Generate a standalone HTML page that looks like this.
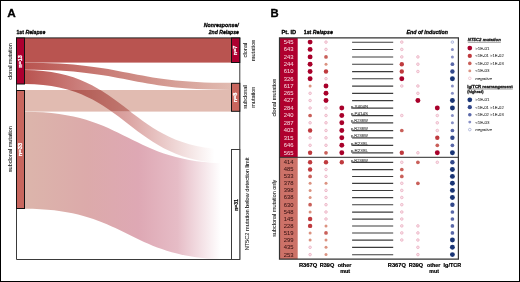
<!DOCTYPE html>
<html><head><meta charset="utf-8"><title>NT5C2 figure</title>
<style>
html,body{margin:0;padding:0;background:#fff;}
body{width:520px;height:282px;overflow:hidden;}
svg{display:block;font-family:"Liberation Sans", sans-serif;font-kerning:none;}
</style></head><body>
<svg width="520" height="282" viewBox="0 0 520 282"><defs><linearGradient id="gB" gradientUnits="userSpaceOnUse" x1="25" y1="0" x2="231" y2="0">
<stop offset="0" stop-color="#b95450"/><stop offset="1" stop-color="#e1bbb1"/></linearGradient><linearGradient id="gC" gradientUnits="userSpaceOnUse" x1="25" y1="0" x2="231" y2="0">
<stop offset="0" stop-color="#b95450"/><stop offset="0.5" stop-color="#dba4a2"/><stop offset="0.92" stop-color="#ffffff"/><stop offset="1" stop-color="#ffffff"/></linearGradient><linearGradient id="gE" gradientUnits="userSpaceOnUse" x1="25" y1="0" x2="231" y2="0">
<stop offset="0" stop-color="#dcb5ab"/><stop offset="0.3" stop-color="#dcaaaa"/><stop offset="0.55" stop-color="#dea8b4"/><stop offset="0.74" stop-color="#e6bcc6"/><stop offset="0.95" stop-color="#ffffff"/><stop offset="1" stop-color="#ffffff"/></linearGradient><clipPath id="cpD"><rect x="0" y="90" width="260" height="21.6"/></clipPath><clipPath id="cpND"><path d="M0,0 H260 V90 H0 Z M0,111.6 H260 V282 H0 Z"/></clipPath></defs>
<rect width="520" height="282" fill="#fff"/>
<path d="M25,111.8 C128.0,111.8 128.0,163.4 231,163.4 L231,259.5 C128.0,259.5 128.0,208.7 25,208.7 Z" fill="url(#gE)" />
<rect x="25" y="90" width="206" height="21.6" fill="#e1bbb1"/>
<rect x="25" y="38" width="206" height="24.6" fill="#b95450"/>
<path d="M25,62.65 C128.0,62.65 128.0,82.8 231,82.8 L231,89.9 C128.0,89.9 128.0,69.8 25,69.8 Z" fill="url(#gB)" />
<g clip-path="url(#cpND)"><path d="M25,69.9 C128.0,69.9 128.0,149.3 231,149.3 L231,163.5 C128.0,163.5 128.0,84 25,84 Z" fill="url(#gC)" /></g>
<g clip-path="url(#cpD)" style="mix-blend-mode:multiply"><path d="M25,69.9 C128.0,69.9 128.0,149.3 231,149.3 L231,163.5 C128.0,163.5 128.0,84 25,84 Z" fill="url(#gC)" /></g>
<path d="M16.5,38 V259.5 H239.8 V38" fill="none" stroke="#3a3a3a" stroke-width="1"/>
<path d="M16,37.9 H240.3" stroke="#222" stroke-width="1"/>
<rect x="16.5" y="38" width="8" height="46" fill="#ad0030" stroke="#111" stroke-width="1"/>
<rect x="16.5" y="90.5" width="8" height="118" fill="#c8665e" stroke="#111" stroke-width="1"/>
<rect x="231.5" y="38" width="8.3" height="24.5" fill="#ad0030" stroke="#111" stroke-width="1"/>
<rect x="231.5" y="83.3" width="8.3" height="28" fill="#c8665e" stroke="#111" stroke-width="1"/>
<rect x="231.5" y="149.5" width="8.3" height="110" fill="#fff" stroke="#3a3a3a" stroke-width="1"/>
<text transform="translate(7.31,16.60) scale(1.0329,1)" font-size="11.4" font-weight="bold" fill="#000" stroke="#000" stroke-width="0.30" stroke-linejoin="round">A</text>
<text transform="translate(16.47,33.80) scale(0.8687,1)" font-size="6.0" font-weight="bold" fill="#000" stroke="#000" stroke-width="0.30" stroke-linejoin="round">1st <tspan font-style="italic">Relapse</tspan></text>
<text transform="translate(203.81,27.00) scale(0.8756,1)" font-size="6.0" font-weight="bold" font-style="italic" fill="#000" stroke="#000" stroke-width="0.30" stroke-linejoin="round">Nonresponse/</text>
<text transform="translate(208.78,33.80) scale(0.8533,1)" font-size="6.0" font-weight="bold" font-style="italic" fill="#000" stroke="#000" stroke-width="0.30" stroke-linejoin="round">2nd Relapse</text>
<text transform="translate(12.20,79.83) rotate(-90) scale(1.0460,1)" font-size="5.2" fill="#1a1a1a" stroke="#1a1a1a" stroke-width="0.06" stroke-linejoin="round">clonal mutation</text>
<text transform="translate(12.20,172.15) rotate(-90) scale(1.0612,1)" font-size="5.2" fill="#1a1a1a" stroke="#1a1a1a" stroke-width="0.06" stroke-linejoin="round">subclonal mutation</text>
<text transform="translate(22.10,67.86) rotate(-90) scale(0.9977,1)" font-size="5.5" font-weight="bold" fill="#fff" stroke="#fff" stroke-width="0.25" stroke-linejoin="round">n=13</text>
<text transform="translate(22.10,156.18) rotate(-90) scale(1.0472,1)" font-size="5.5" font-weight="bold" fill="#fff" stroke="#fff" stroke-width="0.25" stroke-linejoin="round">n=33</text>
<text transform="translate(237.30,55.16) rotate(-90) scale(0.9684,1)" font-size="5.6" font-weight="bold" fill="#fff" stroke="#fff" stroke-width="0.25" stroke-linejoin="round">n=7</text>
<text transform="translate(237.30,102.37) rotate(-90) scale(0.9931,1)" font-size="5.6" font-weight="bold" fill="#fff" stroke="#fff" stroke-width="0.25" stroke-linejoin="round">n=8</text>
<text transform="translate(237.50,210.84) rotate(-90) scale(0.9282,1)" font-size="5.5" font-weight="bold" fill="#111" stroke="#111" stroke-width="0.20" stroke-linejoin="round">n=31</text>
<text transform="translate(247.30,57.44) rotate(-90) scale(1.0908,1)" font-size="5.2" fill="#1a1a1a" stroke="#1a1a1a" stroke-width="0.06" stroke-linejoin="round">clonal</text>
<text transform="translate(254.50,61.28) rotate(-90) scale(1.0955,1)" font-size="5.2" fill="#1a1a1a" stroke="#1a1a1a" stroke-width="0.06" stroke-linejoin="round">mutation</text>
<text transform="translate(247.30,108.65) rotate(-90) scale(1.0616,1)" font-size="5.2" fill="#1a1a1a" stroke="#1a1a1a" stroke-width="0.06" stroke-linejoin="round">subclonal</text>
<text transform="translate(254.50,107.77) rotate(-90) scale(1.0643,1)" font-size="5.2" fill="#1a1a1a" stroke="#1a1a1a" stroke-width="0.06" stroke-linejoin="round">mutation</text>
<text transform="translate(248.50,250.36) rotate(-90) scale(1.0810,1)" font-size="5.2" fill="#1a1a1a" stroke="#1a1a1a" stroke-width="0.06" stroke-linejoin="round">NT5C2 mutation below detection limit</text>
<rect x="279.5" y="38" width="18.2" height="119.3" fill="#b0002e"/>
<rect x="279.5" y="157.3" width="18.2" height="101.9" fill="#cd7268"/>
<text transform="translate(283.80,44.05) scale(1.0679,1)" font-size="5.5" fill="#f4d2da" stroke="#f4d2da" stroke-width="0.04" stroke-linejoin="round">545</text>
<text transform="translate(283.80,51.35) scale(1.0679,1)" font-size="5.5" fill="#f4d2da" stroke="#f4d2da" stroke-width="0.04" stroke-linejoin="round">643</text>
<text transform="translate(283.80,58.85) scale(1.0679,1)" font-size="5.5" fill="#f4d2da" stroke="#f4d2da" stroke-width="0.04" stroke-linejoin="round">243</text>
<text transform="translate(283.80,66.15) scale(1.0679,1)" font-size="5.5" fill="#f4d2da" stroke="#f4d2da" stroke-width="0.04" stroke-linejoin="round">244</text>
<text transform="translate(283.80,73.45) scale(1.0679,1)" font-size="5.5" fill="#f4d2da" stroke="#f4d2da" stroke-width="0.04" stroke-linejoin="round">610</text>
<text transform="translate(283.80,80.65) scale(1.0679,1)" font-size="5.5" fill="#f4d2da" stroke="#f4d2da" stroke-width="0.04" stroke-linejoin="round">326</text>
<text transform="translate(283.80,87.95) scale(1.0679,1)" font-size="5.5" fill="#f4d2da" stroke="#f4d2da" stroke-width="0.04" stroke-linejoin="round">617</text>
<text transform="translate(283.80,95.25) scale(1.0679,1)" font-size="5.5" fill="#f4d2da" stroke="#f4d2da" stroke-width="0.04" stroke-linejoin="round">265</text>
<text transform="translate(283.80,102.45) scale(1.0679,1)" font-size="5.5" fill="#f4d2da" stroke="#f4d2da" stroke-width="0.04" stroke-linejoin="round">427</text>
<text transform="translate(283.80,109.95) scale(1.0679,1)" font-size="5.5" fill="#f4d2da" stroke="#f4d2da" stroke-width="0.04" stroke-linejoin="round">284</text>
<text transform="translate(283.80,117.45) scale(1.0679,1)" font-size="5.5" fill="#f4d2da" stroke="#f4d2da" stroke-width="0.04" stroke-linejoin="round">240</text>
<text transform="translate(283.80,124.75) scale(1.0679,1)" font-size="5.5" fill="#f4d2da" stroke="#f4d2da" stroke-width="0.04" stroke-linejoin="round">287</text>
<text transform="translate(283.80,132.45) scale(1.0679,1)" font-size="5.5" fill="#f4d2da" stroke="#f4d2da" stroke-width="0.04" stroke-linejoin="round">403</text>
<text transform="translate(283.80,139.75) scale(1.0679,1)" font-size="5.5" fill="#f4d2da" stroke="#f4d2da" stroke-width="0.04" stroke-linejoin="round">315</text>
<text transform="translate(283.80,147.25) scale(1.0679,1)" font-size="5.5" fill="#f4d2da" stroke="#f4d2da" stroke-width="0.04" stroke-linejoin="round">646</text>
<text transform="translate(283.80,154.75) scale(1.0679,1)" font-size="5.5" fill="#f4d2da" stroke="#f4d2da" stroke-width="0.04" stroke-linejoin="round">565</text>
<text transform="translate(283.80,164.25) scale(1.0679,1)" font-size="5.5" fill="#3a1414" stroke="#3a1414" stroke-width="0.04" stroke-linejoin="round">414</text>
<text transform="translate(283.80,171.45) scale(1.0679,1)" font-size="5.5" fill="#3a1414" stroke="#3a1414" stroke-width="0.04" stroke-linejoin="round">485</text>
<text transform="translate(283.80,178.35) scale(1.0679,1)" font-size="5.5" fill="#3a1414" stroke="#3a1414" stroke-width="0.04" stroke-linejoin="round">533</text>
<text transform="translate(283.80,185.25) scale(1.0679,1)" font-size="5.5" fill="#3a1414" stroke="#3a1414" stroke-width="0.04" stroke-linejoin="round">378</text>
<text transform="translate(283.80,192.35) scale(1.0679,1)" font-size="5.5" fill="#3a1414" stroke="#3a1414" stroke-width="0.04" stroke-linejoin="round">398</text>
<text transform="translate(283.80,199.45) scale(1.0679,1)" font-size="5.5" fill="#3a1414" stroke="#3a1414" stroke-width="0.04" stroke-linejoin="round">638</text>
<text transform="translate(283.80,206.65) scale(1.0679,1)" font-size="5.5" fill="#3a1414" stroke="#3a1414" stroke-width="0.04" stroke-linejoin="round">630</text>
<text transform="translate(283.80,213.95) scale(1.0679,1)" font-size="5.5" fill="#3a1414" stroke="#3a1414" stroke-width="0.04" stroke-linejoin="round">548</text>
<text transform="translate(283.80,220.95) scale(1.0679,1)" font-size="5.5" fill="#3a1414" stroke="#3a1414" stroke-width="0.04" stroke-linejoin="round">145</text>
<text transform="translate(283.80,227.85) scale(1.0679,1)" font-size="5.5" fill="#3a1414" stroke="#3a1414" stroke-width="0.04" stroke-linejoin="round">228</text>
<text transform="translate(283.80,234.85) scale(1.0679,1)" font-size="5.5" fill="#3a1414" stroke="#3a1414" stroke-width="0.04" stroke-linejoin="round">519</text>
<text transform="translate(283.80,241.95) scale(1.0679,1)" font-size="5.5" fill="#3a1414" stroke="#3a1414" stroke-width="0.04" stroke-linejoin="round">299</text>
<text transform="translate(283.80,249.25) scale(1.0679,1)" font-size="5.5" fill="#3a1414" stroke="#3a1414" stroke-width="0.04" stroke-linejoin="round">435</text>
<text transform="translate(283.80,256.55) scale(1.0679,1)" font-size="5.5" fill="#3a1414" stroke="#3a1414" stroke-width="0.04" stroke-linejoin="round">253</text>
<path d="M352.1,42.2 H393.2" stroke="#3c3c3c" stroke-width="1.1"/>
<path d="M352.1,49.5 H393.2" stroke="#3c3c3c" stroke-width="1.1"/>
<path d="M352.1,57.0 H393.2" stroke="#3c3c3c" stroke-width="1.1"/>
<path d="M352.1,64.3 H393.2" stroke="#3c3c3c" stroke-width="1.1"/>
<path d="M352.1,71.6 H393.2" stroke="#3c3c3c" stroke-width="1.1"/>
<path d="M352.1,78.8 H393.2" stroke="#3c3c3c" stroke-width="1.1"/>
<path d="M352.1,86.1 H393.2" stroke="#3c3c3c" stroke-width="1.1"/>
<path d="M352.1,93.4 H393.2" stroke="#3c3c3c" stroke-width="1.1"/>
<path d="M352.1,100.6 H393.2" stroke="#3c3c3c" stroke-width="1.1"/>
<path d="M352.1,108.1 H393.2" stroke="#3c3c3c" stroke-width="1.1"/>
<text transform="translate(350.71,107.60) scale(1.0743,1)" font-size="4.2" fill="#333" stroke="#333" stroke-width="0.06" stroke-linejoin="round">p.X404N</text>
<path d="M352.1,115.6 H393.2" stroke="#3c3c3c" stroke-width="1.1"/>
<text transform="translate(350.71,115.10) scale(1.0799,1)" font-size="4.2" fill="#333" stroke="#333" stroke-width="0.06" stroke-linejoin="round">p.P414S</text>
<path d="M352.1,122.9 H393.2" stroke="#3c3c3c" stroke-width="1.1"/>
<text transform="translate(350.73,122.40) scale(0.9813,1)" font-size="4.2" fill="#333" stroke="#333" stroke-width="0.06" stroke-linejoin="round">p.R238W</text>
<path d="M352.1,130.6 H393.2" stroke="#3c3c3c" stroke-width="1.1"/>
<text transform="translate(350.73,130.10) scale(0.9813,1)" font-size="4.2" fill="#333" stroke="#333" stroke-width="0.06" stroke-linejoin="round">p.R238W</text>
<path d="M352.1,137.9 H393.2" stroke="#3c3c3c" stroke-width="1.1"/>
<text transform="translate(350.73,137.40) scale(0.9813,1)" font-size="4.2" fill="#333" stroke="#333" stroke-width="0.06" stroke-linejoin="round">p.R238W</text>
<path d="M352.1,145.4 H393.2" stroke="#3c3c3c" stroke-width="1.1"/>
<text transform="translate(350.70,144.90) scale(1.0925,1)" font-size="4.2" fill="#333" stroke="#333" stroke-width="0.06" stroke-linejoin="round">p.R238L</text>
<path d="M352.1,152.9 H393.2" stroke="#3c3c3c" stroke-width="1.1"/>
<text transform="translate(350.70,152.40) scale(1.0925,1)" font-size="4.2" fill="#333" stroke="#333" stroke-width="0.06" stroke-linejoin="round">p.R238L</text>
<path d="M352.1,162.4 H393.2" stroke="#3c3c3c" stroke-width="1.1"/>
<text transform="translate(350.73,161.90) scale(0.9813,1)" font-size="4.2" fill="#333" stroke="#333" stroke-width="0.06" stroke-linejoin="round">p.R238W</text>
<path d="M352.1,169.6 H393.2" stroke="#3c3c3c" stroke-width="1.1"/>
<path d="M352.1,176.5 H393.2" stroke="#3c3c3c" stroke-width="1.1"/>
<path d="M352.1,183.4 H393.2" stroke="#3c3c3c" stroke-width="1.1"/>
<path d="M352.1,190.5 H393.2" stroke="#3c3c3c" stroke-width="1.1"/>
<path d="M352.1,197.6 H393.2" stroke="#3c3c3c" stroke-width="1.1"/>
<path d="M352.1,204.8 H393.2" stroke="#3c3c3c" stroke-width="1.1"/>
<path d="M352.1,212.1 H393.2" stroke="#3c3c3c" stroke-width="1.1"/>
<path d="M352.1,219.1 H393.2" stroke="#3c3c3c" stroke-width="1.1"/>
<path d="M352.1,226.0 H393.2" stroke="#3c3c3c" stroke-width="1.1"/>
<path d="M352.1,233.0 H393.2" stroke="#3c3c3c" stroke-width="1.1"/>
<path d="M352.1,240.1 H393.2" stroke="#3c3c3c" stroke-width="1.1"/>
<path d="M352.1,247.4 H393.2" stroke="#3c3c3c" stroke-width="1.1"/>
<path d="M352.1,254.7 H393.2" stroke="#3c3c3c" stroke-width="1.1"/>
<path d="M279.5,37.8 H458.4 V259.1 H279.5 Z" fill="none" stroke="#333" stroke-width="1.2"/>
<path d="M279.5,157.3 H458.2" stroke="#2a2a2a" stroke-width="1"/>
<circle cx="310.1" cy="42.10" r="2.45" fill="#a8002a"/>
<circle cx="326.0" cy="42.10" r="1.3" fill="#f9e4ea" stroke="#e9abbf" stroke-width="0.75"/>
<circle cx="401.8" cy="42.10" r="1.3" fill="#f9e4ea" stroke="#e9abbf" stroke-width="0.75"/>
<circle cx="452.4" cy="42.10" r="1.3" fill="#e9ecf7" stroke="#9ea8d6" stroke-width="0.75"/>
<circle cx="310.1" cy="49.40" r="2.45" fill="#a8002a"/>
<circle cx="326.0" cy="49.40" r="1.3" fill="#f9e4ea" stroke="#e9abbf" stroke-width="0.75"/>
<circle cx="401.8" cy="49.40" r="1.3" fill="#f9e4ea" stroke="#e9abbf" stroke-width="0.75"/>
<circle cx="452.4" cy="49.40" r="1.5" fill="#8890c6"/>
<circle cx="310.1" cy="56.90" r="2.45" fill="#a8002a"/>
<circle cx="326.0" cy="56.90" r="1.85" fill="#c9605a"/>
<circle cx="401.8" cy="56.90" r="1.3" fill="#f9e4ea" stroke="#e9abbf" stroke-width="0.75"/>
<circle cx="417.9" cy="56.90" r="1.3" fill="#f9e4ea" stroke="#e9abbf" stroke-width="0.75"/>
<circle cx="452.4" cy="56.90" r="1.5" fill="#8890c6"/>
<circle cx="310.1" cy="64.20" r="2.45" fill="#a8002a"/>
<circle cx="326.0" cy="64.20" r="1.5" fill="#db9280"/>
<circle cx="401.8" cy="64.20" r="2.2" fill="#bf3a3e"/>
<circle cx="417.9" cy="64.20" r="1.3" fill="#f9e4ea" stroke="#e9abbf" stroke-width="0.75"/>
<circle cx="452.4" cy="64.20" r="1.85" fill="#5a68a8"/>
<circle cx="310.1" cy="71.50" r="2.45" fill="#a8002a"/>
<circle cx="326.0" cy="71.50" r="2.2" fill="#bf3a3e"/>
<circle cx="401.8" cy="71.50" r="2.2" fill="#bf3a3e"/>
<circle cx="417.9" cy="71.50" r="1.3" fill="#f9e4ea" stroke="#e9abbf" stroke-width="0.75"/>
<circle cx="452.4" cy="71.50" r="2.2" fill="#33488a"/>
<circle cx="310.1" cy="78.70" r="2.45" fill="#a8002a"/>
<circle cx="326.0" cy="78.70" r="1.3" fill="#f9e4ea" stroke="#e9abbf" stroke-width="0.75"/>
<circle cx="401.8" cy="78.70" r="2.45" fill="#a8002a"/>
<circle cx="452.4" cy="78.70" r="2.45" fill="#1a3575"/>
<circle cx="310.1" cy="86.00" r="1.5" fill="#db9280"/>
<circle cx="326.0" cy="86.00" r="2.45" fill="#a8002a"/>
<circle cx="401.8" cy="86.00" r="1.3" fill="#f9e4ea" stroke="#e9abbf" stroke-width="0.75"/>
<circle cx="417.9" cy="86.00" r="1.3" fill="#f9e4ea" stroke="#e9abbf" stroke-width="0.75"/>
<circle cx="452.4" cy="86.00" r="1.5" fill="#8890c6"/>
<circle cx="310.1" cy="93.30" r="1.3" fill="#f9e4ea" stroke="#e9abbf" stroke-width="0.75"/>
<circle cx="326.0" cy="93.30" r="2.45" fill="#a8002a"/>
<circle cx="417.9" cy="93.30" r="1.3" fill="#f9e4ea" stroke="#e9abbf" stroke-width="0.75"/>
<circle cx="452.4" cy="93.30" r="1.5" fill="#8890c6"/>
<circle cx="310.1" cy="100.50" r="1.3" fill="#f9e4ea" stroke="#e9abbf" stroke-width="0.75"/>
<circle cx="326.0" cy="100.50" r="2.45" fill="#a8002a"/>
<circle cx="417.9" cy="100.50" r="2.45" fill="#a8002a"/>
<circle cx="452.4" cy="100.50" r="2.45" fill="#1a3575"/>
<circle cx="310.1" cy="108.00" r="1.3" fill="#f9e4ea" stroke="#e9abbf" stroke-width="0.75"/>
<circle cx="326.0" cy="108.00" r="1.3" fill="#f9e4ea" stroke="#e9abbf" stroke-width="0.75"/>
<circle cx="341.8" cy="108.00" r="2.45" fill="#a8002a"/>
<circle cx="437.3" cy="108.00" r="2.45" fill="#a8002a"/>
<circle cx="452.4" cy="108.00" r="2.45" fill="#1a3575"/>
<circle cx="310.1" cy="115.50" r="1.85" fill="#c9605a"/>
<circle cx="326.0" cy="115.50" r="1.3" fill="#f9e4ea" stroke="#e9abbf" stroke-width="0.75"/>
<circle cx="341.8" cy="115.50" r="2.45" fill="#a8002a"/>
<circle cx="401.8" cy="115.50" r="1.3" fill="#f9e4ea" stroke="#e9abbf" stroke-width="0.75"/>
<circle cx="437.3" cy="115.50" r="1.3" fill="#f9e4ea" stroke="#e9abbf" stroke-width="0.75"/>
<circle cx="452.4" cy="115.50" r="1.5" fill="#8890c6"/>
<circle cx="310.1" cy="122.80" r="1.3" fill="#f9e4ea" stroke="#e9abbf" stroke-width="0.75"/>
<circle cx="326.0" cy="122.80" r="1.3" fill="#f9e4ea" stroke="#e9abbf" stroke-width="0.75"/>
<circle cx="341.8" cy="122.80" r="2.45" fill="#a8002a"/>
<circle cx="437.3" cy="122.80" r="1.3" fill="#f9e4ea" stroke="#e9abbf" stroke-width="0.75"/>
<circle cx="452.4" cy="122.80" r="1.5" fill="#8890c6"/>
<circle cx="310.1" cy="130.50" r="2.2" fill="#bf3a3e"/>
<circle cx="326.0" cy="130.50" r="1.3" fill="#f9e4ea" stroke="#e9abbf" stroke-width="0.75"/>
<circle cx="341.8" cy="130.50" r="2.45" fill="#a8002a"/>
<circle cx="401.8" cy="130.50" r="1.85" fill="#c9605a"/>
<circle cx="437.3" cy="130.50" r="1.3" fill="#f9e4ea" stroke="#e9abbf" stroke-width="0.75"/>
<circle cx="452.4" cy="130.50" r="1.85" fill="#5a68a8"/>
<circle cx="310.1" cy="137.80" r="1.3" fill="#f9e4ea" stroke="#e9abbf" stroke-width="0.75"/>
<circle cx="326.0" cy="137.80" r="1.3" fill="#f9e4ea" stroke="#e9abbf" stroke-width="0.75"/>
<circle cx="341.8" cy="137.80" r="2.45" fill="#a8002a"/>
<circle cx="437.3" cy="137.80" r="2.2" fill="#bf3a3e"/>
<circle cx="452.4" cy="137.80" r="2.2" fill="#33488a"/>
<circle cx="310.1" cy="145.30" r="1.3" fill="#f9e4ea" stroke="#e9abbf" stroke-width="0.75"/>
<circle cx="326.0" cy="145.30" r="1.3" fill="#f9e4ea" stroke="#e9abbf" stroke-width="0.75"/>
<circle cx="341.8" cy="145.30" r="2.45" fill="#a8002a"/>
<circle cx="437.3" cy="145.30" r="1.85" fill="#c9605a"/>
<circle cx="452.4" cy="145.30" r="1.85" fill="#5a68a8"/>
<circle cx="310.1" cy="152.80" r="2.2" fill="#bf3a3e"/>
<circle cx="326.0" cy="152.80" r="1.85" fill="#c9605a"/>
<circle cx="341.8" cy="152.80" r="2.45" fill="#a8002a"/>
<circle cx="401.8" cy="152.80" r="2.2" fill="#bf3a3e"/>
<circle cx="417.9" cy="152.80" r="1.3" fill="#f9e4ea" stroke="#e9abbf" stroke-width="0.75"/>
<circle cx="437.3" cy="152.80" r="2.45" fill="#a8002a"/>
<circle cx="452.4" cy="152.80" r="2.45" fill="#1a3575"/>
<circle cx="310.1" cy="162.30" r="2.2" fill="#bf3a3e"/>
<circle cx="326.0" cy="162.30" r="2.2" fill="#bf3a3e"/>
<circle cx="341.8" cy="162.30" r="2.2" fill="#bf3a3e"/>
<circle cx="401.8" cy="162.30" r="1.3" fill="#f9e4ea" stroke="#e9abbf" stroke-width="0.75"/>
<circle cx="417.9" cy="162.30" r="1.85" fill="#c9605a"/>
<circle cx="437.3" cy="162.30" r="1.3" fill="#f9e4ea" stroke="#e9abbf" stroke-width="0.75"/>
<circle cx="452.4" cy="162.30" r="2.2" fill="#33488a"/>
<circle cx="310.1" cy="169.50" r="2.2" fill="#bf3a3e"/>
<circle cx="326.0" cy="169.50" r="1.3" fill="#f9e4ea" stroke="#e9abbf" stroke-width="0.75"/>
<circle cx="401.8" cy="169.50" r="1.85" fill="#c9605a"/>
<circle cx="452.4" cy="169.50" r="2.45" fill="#1a3575"/>
<circle cx="310.1" cy="176.40" r="1.85" fill="#c9605a"/>
<circle cx="326.0" cy="176.40" r="1.3" fill="#f9e4ea" stroke="#e9abbf" stroke-width="0.75"/>
<circle cx="401.8" cy="176.40" r="1.85" fill="#c9605a"/>
<circle cx="452.4" cy="176.40" r="2.45" fill="#1a3575"/>
<circle cx="310.1" cy="183.30" r="1.5" fill="#db9280"/>
<circle cx="326.0" cy="183.30" r="1.5" fill="#db9280"/>
<circle cx="401.8" cy="183.30" r="1.3" fill="#f9e4ea" stroke="#e9abbf" stroke-width="0.75"/>
<circle cx="417.9" cy="183.30" r="1.85" fill="#c9605a"/>
<circle cx="452.4" cy="183.30" r="2.45" fill="#1a3575"/>
<circle cx="310.1" cy="190.40" r="1.5" fill="#db9280"/>
<circle cx="326.0" cy="190.40" r="1.3" fill="#f9e4ea" stroke="#e9abbf" stroke-width="0.75"/>
<circle cx="401.8" cy="190.40" r="1.3" fill="#f9e4ea" stroke="#e9abbf" stroke-width="0.75"/>
<circle cx="452.4" cy="190.40" r="2.45" fill="#1a3575"/>
<circle cx="310.1" cy="197.50" r="1.5" fill="#db9280"/>
<circle cx="326.0" cy="197.50" r="1.3" fill="#f9e4ea" stroke="#e9abbf" stroke-width="0.75"/>
<circle cx="401.8" cy="197.50" r="1.3" fill="#f9e4ea" stroke="#e9abbf" stroke-width="0.75"/>
<circle cx="452.4" cy="197.50" r="2.45" fill="#1a3575"/>
<circle cx="310.1" cy="204.70" r="1.85" fill="#c9605a"/>
<circle cx="326.0" cy="204.70" r="1.3" fill="#f9e4ea" stroke="#e9abbf" stroke-width="0.75"/>
<circle cx="401.8" cy="204.70" r="1.3" fill="#f9e4ea" stroke="#e9abbf" stroke-width="0.75"/>
<circle cx="452.4" cy="204.70" r="2.2" fill="#33488a"/>
<circle cx="310.1" cy="212.00" r="1.5" fill="#db9280"/>
<circle cx="326.0" cy="212.00" r="1.3" fill="#f9e4ea" stroke="#e9abbf" stroke-width="0.75"/>
<circle cx="401.8" cy="212.00" r="1.3" fill="#f9e4ea" stroke="#e9abbf" stroke-width="0.75"/>
<circle cx="452.4" cy="212.00" r="1.85" fill="#5a68a8"/>
<circle cx="310.1" cy="219.00" r="2.2" fill="#bf3a3e"/>
<circle cx="326.0" cy="219.00" r="1.3" fill="#f9e4ea" stroke="#e9abbf" stroke-width="0.75"/>
<circle cx="401.8" cy="219.00" r="1.3" fill="#f9e4ea" stroke="#e9abbf" stroke-width="0.75"/>
<circle cx="452.4" cy="219.00" r="1.85" fill="#5a68a8"/>
<circle cx="310.1" cy="225.90" r="2.2" fill="#bf3a3e"/>
<circle cx="326.0" cy="225.90" r="1.5" fill="#db9280"/>
<circle cx="401.8" cy="225.90" r="1.3" fill="#f9e4ea" stroke="#e9abbf" stroke-width="0.75"/>
<circle cx="417.9" cy="225.90" r="1.3" fill="#f9e4ea" stroke="#e9abbf" stroke-width="0.75"/>
<circle cx="452.4" cy="225.90" r="1.85" fill="#5a68a8"/>
<circle cx="310.1" cy="232.90" r="1.5" fill="#db9280"/>
<circle cx="326.0" cy="232.90" r="1.85" fill="#c9605a"/>
<circle cx="401.8" cy="232.90" r="1.3" fill="#f9e4ea" stroke="#e9abbf" stroke-width="0.75"/>
<circle cx="417.9" cy="232.90" r="1.3" fill="#f9e4ea" stroke="#e9abbf" stroke-width="0.75"/>
<circle cx="452.4" cy="232.90" r="1.85" fill="#5a68a8"/>
<circle cx="310.1" cy="240.00" r="1.5" fill="#db9280"/>
<circle cx="326.0" cy="240.00" r="1.5" fill="#db9280"/>
<circle cx="401.8" cy="240.00" r="1.3" fill="#f9e4ea" stroke="#e9abbf" stroke-width="0.75"/>
<circle cx="417.9" cy="240.00" r="1.3" fill="#f9e4ea" stroke="#e9abbf" stroke-width="0.75"/>
<circle cx="452.4" cy="240.00" r="2.45" fill="#1a3575"/>
<circle cx="310.1" cy="247.30" r="1.3" fill="#f9e4ea" stroke="#e9abbf" stroke-width="0.75"/>
<circle cx="326.0" cy="247.30" r="1.5" fill="#db9280"/>
<circle cx="417.9" cy="247.30" r="1.3" fill="#f9e4ea" stroke="#e9abbf" stroke-width="0.75"/>
<circle cx="452.4" cy="247.30" r="2.45" fill="#1a3575"/>
<circle cx="310.1" cy="254.60" r="1.3" fill="#f9e4ea" stroke="#e9abbf" stroke-width="0.75"/>
<circle cx="326.0" cy="254.60" r="1.5" fill="#db9280"/>
<circle cx="417.9" cy="254.60" r="1.3" fill="#f9e4ea" stroke="#e9abbf" stroke-width="0.75"/>
<circle cx="452.4" cy="254.60" r="2.45" fill="#1a3575"/>
<text transform="translate(270.54,16.70) scale(0.9925,1)" font-size="11.4" font-weight="bold" fill="#000" stroke="#000" stroke-width="0.30" stroke-linejoin="round">B</text>
<text transform="translate(281.52,33.60) scale(0.9536,1)" font-size="6.0" font-weight="bold" fill="#000" stroke="#000" stroke-width="0.30" stroke-linejoin="round">Pt. ID</text>
<text transform="translate(303.77,33.60) scale(0.8748,1)" font-size="6.0" font-weight="bold" fill="#000" stroke="#000" stroke-width="0.30" stroke-linejoin="round">1st <tspan font-style="italic">Relapse</tspan></text>
<text transform="translate(406.51,33.70) scale(0.8794,1)" font-size="6.0" font-weight="bold" font-style="italic" fill="#000" stroke="#000" stroke-width="0.30" stroke-linejoin="round">End of induction</text>
<text transform="translate(275.60,116.44) rotate(-90) scale(1.0809,1)" font-size="5.2" fill="#1a1a1a" stroke="#1a1a1a" stroke-width="0.06" stroke-linejoin="round">clonal mutation</text>
<text transform="translate(275.70,236.75) rotate(-90) scale(1.0519,1)" font-size="5.2" fill="#1a1a1a" stroke="#1a1a1a" stroke-width="0.06" stroke-linejoin="round">subclonal mutation only</text>
<text transform="translate(298.91,267.00) scale(1.1570,1)" font-size="5.0" font-weight="bold" fill="#000" stroke="#000" stroke-width="0.20" stroke-linejoin="round">R367Q</text>
<text transform="translate(319.73,267.00) scale(1.1105,1)" font-size="5.0" font-weight="bold" fill="#000" stroke="#000" stroke-width="0.20" stroke-linejoin="round">R39Q</text>
<text transform="translate(387.82,267.00) scale(1.1440,1)" font-size="5.0" font-weight="bold" fill="#000" stroke="#000" stroke-width="0.20" stroke-linejoin="round">R367Q</text>
<text transform="translate(408.63,267.00) scale(1.1105,1)" font-size="5.0" font-weight="bold" fill="#000" stroke="#000" stroke-width="0.20" stroke-linejoin="round">R39Q</text>
<text transform="translate(443.54,267.00) scale(1.0912,1)" font-size="5.0" font-weight="bold" fill="#000" stroke="#000" stroke-width="0.20" stroke-linejoin="round">Ig/TCR</text>
<text transform="translate(337.69,267.00) scale(1.0958,1)" font-size="5.0" font-weight="bold" fill="#000" stroke="#000" stroke-width="0.20" stroke-linejoin="round">other</text>
<text transform="translate(340.14,273.40) scale(1.0941,1)" font-size="5.0" font-weight="bold" fill="#000" stroke="#000" stroke-width="0.20" stroke-linejoin="round">mut</text>
<text transform="translate(426.89,267.00) scale(1.0794,1)" font-size="5.0" font-weight="bold" fill="#000" stroke="#000" stroke-width="0.20" stroke-linejoin="round">other</text>
<text transform="translate(429.35,273.40) scale(1.0485,1)" font-size="5.0" font-weight="bold" fill="#000" stroke="#000" stroke-width="0.20" stroke-linejoin="round">mut</text>
<text transform="translate(467.82,41.40) scale(0.9799,1)" font-size="4.4" font-weight="bold" font-style="italic" fill="#1a1a1a" stroke="#1a1a1a" stroke-width="0.30" stroke-linejoin="round">NT5C2 mutation</text>
<path d="M467.8,42.3 H500.8" stroke="#222" stroke-width="0.45"/>
<circle cx="469.8" cy="48.1" r="2.38" fill="#a8002a"/>
<text transform="translate(475.18,49.65) scale(1.0015,1)" font-size="4.4" fill="#333" stroke="#333" stroke-width="0.06" stroke-linejoin="round">&gt;1E-01</text>
<circle cx="469.8" cy="55.9" r="2.13" fill="#bf3a3e"/>
<text transform="translate(475.19,57.45) scale(0.9624,1)" font-size="4.4" fill="#333" stroke="#333" stroke-width="0.06" stroke-linejoin="round">&lt;1E-01 &gt;1E-02</text>
<circle cx="469.8" cy="63.4" r="1.79" fill="#c9605a"/>
<text transform="translate(475.19,64.95) scale(0.9615,1)" font-size="4.4" fill="#333" stroke="#333" stroke-width="0.06" stroke-linejoin="round">&lt;1E-02 &gt;1E-03</text>
<circle cx="469.8" cy="70.9" r="1.46" fill="#db9280"/>
<text transform="translate(475.18,72.45) scale(1.0000,1)" font-size="4.4" fill="#333" stroke="#333" stroke-width="0.06" stroke-linejoin="round">&lt;1E-03</text>
<circle cx="469.8" cy="78.3" r="1.3" fill="#fff" stroke="#ecb8c6" stroke-width="0.7"/>
<text transform="translate(475.33,79.85) scale(1.0062,1)" font-size="4.4" font-style="italic" fill="#333" stroke="#333" stroke-width="0.06" stroke-linejoin="round">negative</text>
<text transform="translate(467.21,88.30) scale(0.9856,1)" font-size="4.4" font-weight="bold" fill="#1a1a1a" stroke="#1a1a1a" stroke-width="0.30" stroke-linejoin="round">Ig/TCR rearrangement</text>
<path d="M467.4,89.0 H512.8" stroke="#222" stroke-width="0.45"/>
<text transform="translate(467.31,93.30) scale(0.8711,1)" font-size="4.4" font-weight="bold" fill="#1a1a1a" stroke="#1a1a1a" stroke-width="0.30" stroke-linejoin="round">(highest)</text>
<circle cx="469.8" cy="99.8" r="2.38" fill="#1a3575"/>
<text transform="translate(475.18,101.35) scale(1.0015,1)" font-size="4.4" fill="#333" stroke="#333" stroke-width="0.06" stroke-linejoin="round">&gt;1E-01</text>
<circle cx="469.8" cy="107.2" r="2.13" fill="#33488a"/>
<text transform="translate(475.19,108.75) scale(0.9624,1)" font-size="4.4" fill="#333" stroke="#333" stroke-width="0.06" stroke-linejoin="round">&lt;1E-01 &gt;1E-02</text>
<circle cx="469.8" cy="114.7" r="1.79" fill="#5a68a8"/>
<text transform="translate(475.19,116.25) scale(0.9615,1)" font-size="4.4" fill="#333" stroke="#333" stroke-width="0.06" stroke-linejoin="round">&lt;1E-02 &gt;1E-03</text>
<circle cx="469.8" cy="122.1" r="1.46" fill="#8890c6"/>
<text transform="translate(475.18,123.65) scale(1.0000,1)" font-size="4.4" fill="#333" stroke="#333" stroke-width="0.06" stroke-linejoin="round">&lt;1E-03</text>
<circle cx="469.8" cy="129.6" r="1.3" fill="#fff" stroke="#9aa4d0" stroke-width="0.7"/>
<text transform="translate(475.33,131.15) scale(1.0062,1)" font-size="4.4" font-style="italic" fill="#333" stroke="#333" stroke-width="0.06" stroke-linejoin="round">negative</text>
<rect x="0.5" y="0.5" width="519" height="281" fill="none" stroke="#000" stroke-width="1"/></svg>
</body></html>
